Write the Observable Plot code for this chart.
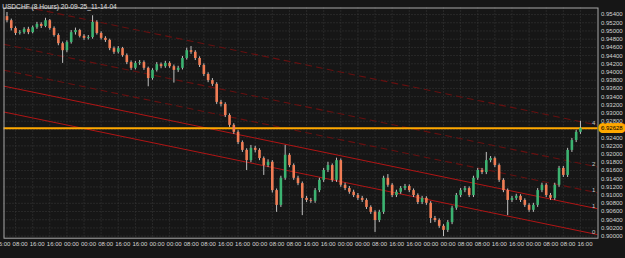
<!DOCTYPE html>
<html><head><meta charset="utf-8">
<script src="https://cdn.jsdelivr.net/npm/d3@7"></script>
<script src="https://cdn.jsdelivr.net/npm/@observablehq/plot@0.6"></script>
<style>
html,body{margin:0;padding:0;background:#161616;}
#chart{width:625px;height:258px;overflow:hidden;}
</style></head><body><div id="chart"></div>
<script>
const title = "USDCHF (8 Hours) 20-09-25_11-14-04";
const opens = [0.9535,0.9525,0.9506,0.9494,0.9496,0.9504,0.9496,0.9508,0.9516,0.9511,
0.9525,0.9506,0.9489,0.9469,0.9452,0.9472,0.9496,0.9501,0.9487,0.9482,
0.9484,0.9521,0.9494,0.9482,0.9477,0.9457,0.9448,0.9457,0.9440,0.9423,
0.9409,0.9421,0.9423,0.9409,0.9384,0.9404,0.9418,0.9413,0.9421,0.9413,
0.9404,0.9409,0.9433,0.9452,0.9448,0.9433,0.9416,0.9394,0.9379,0.9370,
0.9326,0.9321,0.9294,0.9270,0.9253,0.9228,0.9209,0.9184,0.9214,0.9209,
0.9189,0.9172,0.9180,0.9111,0.9075,0.9141,0.9197,0.9172,0.9141,0.9128,
0.9092,0.9087,0.9085,0.9111,0.9136,0.9160,0.9172,0.9136,0.9184,0.9124,
0.9116,0.9107,0.9099,0.9092,0.9087,0.9070,0.9058,0.9038,0.9058,0.9141,
0.9124,0.9099,0.9107,0.9116,0.9121,0.9111,0.9099,0.9082,0.9092,0.9080,
0.9043,0.9038,0.9024,0.9014,0.9033,0.9068,0.9099,0.9111,0.9116,0.9099,
0.9141,0.9160,0.9155,0.9184,0.9189,0.9172,0.9136,0.9111,0.9087,0.9092,
0.9097,0.9087,0.9075,0.9063,0.9075,0.9111,0.9124,0.9099,0.9092,0.9124,
0.9165,0.9148,0.9209,0.9233,0.9253];
const highs = [0.9545,0.9529,0.9510,0.9501,0.9508,0.9509,0.9512,0.9521,0.9520,0.9531,
0.9528,0.9510,0.9493,0.9473,0.9476,0.9501,0.9507,0.9504,0.9491,0.9489,
0.9537,0.9525,0.9498,0.9486,0.9480,0.9461,0.9462,0.9460,0.9444,0.9427,
0.9426,0.9428,0.9427,0.9412,0.9408,0.9423,0.9422,0.9426,0.9425,0.9417,
0.9414,0.9438,0.9458,0.9462,0.9452,0.9437,0.9420,0.9398,0.9384,0.9374,
0.9331,0.9325,0.9298,0.9274,0.9257,0.9232,0.9213,0.9221,0.9219,0.9213,
0.9193,0.9186,0.9184,0.9115,0.9146,0.9221,0.9201,0.9176,0.9146,0.9132,
0.9097,0.9092,0.9116,0.9141,0.9165,0.9180,0.9176,0.9190,0.9188,0.9129,
0.9121,0.9112,0.9104,0.9097,0.9091,0.9074,0.9062,0.9063,0.9146,0.9150,
0.9128,0.9112,0.9121,0.9126,0.9125,0.9115,0.9103,0.9097,0.9096,0.9084,
0.9048,0.9042,0.9028,0.9038,0.9073,0.9104,0.9116,0.9121,0.9120,0.9146,
0.9165,0.9165,0.9204,0.9194,0.9193,0.9176,0.9140,0.9115,0.9097,0.9102,
0.9101,0.9091,0.9079,0.9080,0.9116,0.9129,0.9128,0.9104,0.9129,0.9170,
0.9170,0.9214,0.9238,0.9258,0.9280];
const lows = [0.9520,0.9500,0.9489,0.9490,0.9492,0.9491,0.9493,0.9504,0.9506,0.9508,
0.9502,0.9485,0.9464,0.9421,0.9447,0.9468,0.9490,0.9483,0.9477,0.9478,
0.9480,0.9490,0.9478,0.9472,0.9452,0.9443,0.9444,0.9436,0.9418,0.9404,
0.9405,0.9416,0.9404,0.9364,0.9380,0.9400,0.9408,0.9409,0.9409,0.9373,
0.9399,0.9405,0.9429,0.9443,0.9428,0.9411,0.9389,0.9374,0.9365,0.9321,
0.9315,0.9289,0.9265,0.9248,0.9223,0.9204,0.9160,0.9179,0.9203,0.9184,
0.9148,0.9167,0.9105,0.9058,0.9070,0.9136,0.9167,0.9136,0.9123,0.9050,
0.9082,0.9080,0.9080,0.9106,0.9131,0.9155,0.9131,0.9131,0.9119,0.9111,
0.9102,0.9094,0.9087,0.9082,0.9065,0.9053,0.9009,0.9033,0.9053,0.9119,
0.9094,0.9094,0.9102,0.9111,0.9106,0.9094,0.9077,0.9077,0.9075,0.9031,
0.9033,0.9019,0.8999,0.9009,0.9028,0.9063,0.9094,0.9106,0.9094,0.9094,
0.9136,0.9150,0.9150,0.9179,0.9167,0.9131,0.9106,0.9050,0.9082,0.9087,
0.9082,0.9070,0.9058,0.9058,0.9070,0.9106,0.9094,0.9087,0.9087,0.9119,
0.9143,0.9143,0.9204,0.9228,0.9248];
const closes = [0.9525,0.9506,0.9494,0.9496,0.9504,0.9496,0.9508,0.9516,0.9511,0.9525,
0.9506,0.9489,0.9469,0.9452,0.9472,0.9496,0.9501,0.9487,0.9482,0.9484,
0.9521,0.9494,0.9482,0.9477,0.9457,0.9448,0.9457,0.9440,0.9423,0.9409,
0.9421,0.9423,0.9409,0.9384,0.9404,0.9418,0.9413,0.9421,0.9413,0.9404,
0.9409,0.9433,0.9452,0.9448,0.9433,0.9416,0.9394,0.9379,0.9370,0.9326,
0.9321,0.9294,0.9270,0.9253,0.9228,0.9209,0.9184,0.9214,0.9209,0.9189,
0.9172,0.9180,0.9111,0.9075,0.9141,0.9197,0.9172,0.9141,0.9128,0.9092,
0.9087,0.9085,0.9111,0.9136,0.9160,0.9172,0.9136,0.9184,0.9124,0.9116,
0.9107,0.9099,0.9092,0.9087,0.9070,0.9058,0.9038,0.9058,0.9141,0.9124,
0.9099,0.9107,0.9116,0.9121,0.9111,0.9099,0.9082,0.9092,0.9080,0.9043,
0.9038,0.9024,0.9014,0.9033,0.9068,0.9099,0.9111,0.9116,0.9099,0.9141,
0.9160,0.9155,0.9184,0.9189,0.9172,0.9136,0.9111,0.9087,0.9092,0.9097,
0.9087,0.9075,0.9063,0.9075,0.9111,0.9124,0.9099,0.9092,0.9124,0.9165,
0.9148,0.9209,0.9233,0.9253,0.92628];

const timeLabelBars = [-2,2,6,10,14,18,22,26,30,34,38,42,46,50,54,58,62,66,70,74,78,82,86,90,94,98,102,106,110,114,118,122,126,130,134];
const timeLabels = ["16:00","08:00","16:00","16:00","00:00","00:00","08:00","16:00","16:00","00:00","00:00","08:00","08:00","16:00","16:00","00:00","08:00","08:00","16:00",
"16:00","00:00","00:00","08:00","16:00","16:00","00:00","00:00","08:00","08:00","16:00","16:00","00:00","08:00","08:00","16:00"];
const priceTicks = [0.900,0.902,0.904,0.906,0.908,0.910,0.912,0.914,0.916,0.918,0.920,0.922,0.924,0.926,0.928,0.930,0.932,0.934,0.936,0.938,0.940,0.942,0.944,0.946,0.948,0.950,0.952,0.954];
const currentPrice = 0.92628;
const currentLabel = "0.92628";
const chanBars = [0, 136];
const chanPrices = [0.9301, 0.9008];
const chanWidth = 0.0063;
const fibLevels = [0, 1, 1.618, 2.618, 4.236];
const fibLabels = ["0", "1", "1", "2", "4"];
const xDomain = [-0.7, 138.1];
const yDomain = [0.8995, 0.9556];

const BULL = "#3cb371", BEAR = "#f07d55", WICK = "#c0c0c0";
const candles = closes.map((c, i) => ({i, o: opens[i], h: highs[i], l: lows[i], c}));
const slope = (chanPrices[1] - chanPrices[0]) / (chanBars[1] - chanBars[0]);
const chanAt = (x, lv) => chanPrices[0] + slope * (x - chanBars[0]) + lv * chanWidth;
const fibPts = fibLevels.flatMap(lv => xDomain.map(x => ({x, y: chanAt(x, lv), lv})));
const fibLab = fibLevels.map((lv, k) => ({x: xDomain[1], y: chanAt(xDomain[1], lv), t: fibLabels[k]}));
const tl = timeLabelBars.map((b, k) => ({b, t: timeLabels[k]}));
const gridBars = timeLabelBars.filter(b => b >= xDomain[0]);
const priceLab = priceTicks.filter(p => Math.abs(p - currentPrice) > 0.001);

const plot = Plot.plot({
  width: 625, height: 258,
  marginTop: 7.5, marginBottom: 20.3, marginLeft: 3.5, marginRight: 27.5,
  x: {domain: xDomain, axis: null},
  y: {domain: yDomain, axis: null},
  color: {type: "identity"},
  style: {background: "#161616", color: "#d4d4d4", fontSize: "6px", fontFamily: "'Liberation Sans', Arial, sans-serif", overflow: "visible"},
  marks: [
    Plot.ruleY(priceTicks, {stroke: "#3a3a3a", strokeDasharray: "1,2"}),
    Plot.ruleX(gridBars, {stroke: "#3a3a3a", strokeDasharray: "1,2"}),
    Plot.line(fibPts.filter(d => d.lv <= 1), {x: "x", y: "y", z: "lv", stroke: "#b01515", strokeWidth: 1, clip: true}),
    Plot.line(fibPts.filter(d => d.lv > 1), {x: "x", y: "y", z: "lv", stroke: "#661010", strokeWidth: 1.1, strokeDasharray: "6,5", clip: true}),
    Plot.ruleY([currentPrice], {stroke: "#ffa800", strokeWidth: 2}),
    Plot.ruleX(candles, {x: "i", y1: "l", y2: "h", stroke: WICK, strokeWidth: 1}),
    Plot.ruleX(candles, {x: "i", y1: "o", y2: "c", stroke: d => d.c >= d.o ? BULL : BEAR, strokeWidth: 2.6}),
    Plot.text(fibLab, {x: "x", y: "y", text: "t", dx: -6, dy: -2.5, textAnchor: "start", fill: "#c8c8c8"}),
    Plot.frame({stroke: "#a8a8a8"}),
    Plot.text(tl, {x: "b", text: "t", frameAnchor: "bottom", dy: 7.5, dx: -3, textAnchor: "start", fill: "#d4d4d4"}),
    Plot.text(priceLab, {y: d => d, text: d => d.toFixed(5), frameAnchor: "right", dx: 3, textAnchor: "start", fill: "#d4d4d4"}),
    Plot.text([currentPrice], {y: d => d, text: () => currentLabel, frameAnchor: "right", dx: 3, textAnchor: "start", fill: "#000", stroke: "#ffa800", strokeWidth: 6, paintOrder: "stroke"}),
    Plot.text([title], {frameAnchor: "top-left", dx: -1.8, dy: -3.5, textAnchor: "start", fill: "#e0e0e0", fontSize: 6.6})
  ]
});
document.getElementById("chart").appendChild(plot);
</script></body></html>
